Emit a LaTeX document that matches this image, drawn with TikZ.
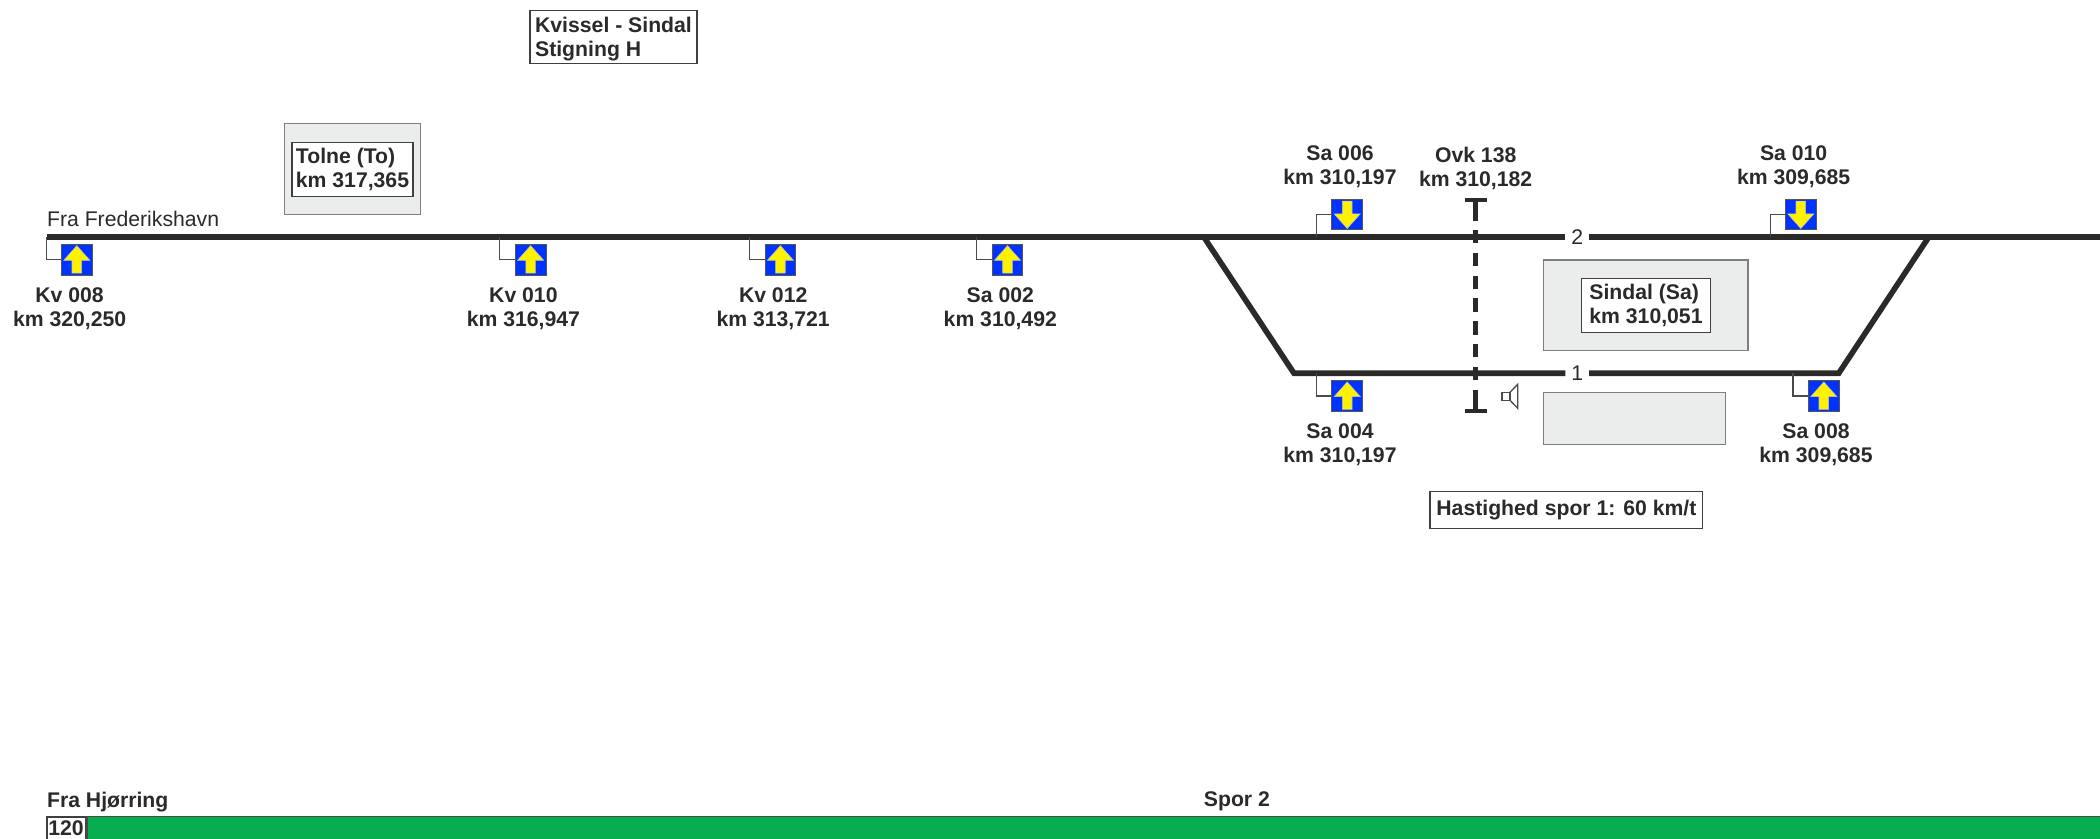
\documentclass[tikz,border=0pt]{standalone}
\usepackage{fontspec}
\setmainfont{Liberation Sans}
\usepackage{xcolor}
\usepackage{tikz}
\usetikzlibrary{positioning}
\definecolor{ink}{HTML}{2B2A29}
\definecolor{signalblue}{HTML}{0033FF}
\definecolor{buildinggray}{HTML}{EBECEC}
\definecolor{speedgreen}{HTML}{06AE4F}
\newcommand\ppbb{path picture bounding box}
\newcommand\txtsize{\fontsize{10.6}{12}\selectfont}
\tikzstyle{track} = [line width=2.8pt, draw=ink]
\tikzstyle{bracket} = [line width=.65pt, draw=ink!85]
\tikzstyle{tracknum} = [minimum width=11.5pt, inner sep=0pt, text=ink, font=\txtsize]
\tikzstyle{signame} = [align=center, inner sep=0pt, text=ink, font=\txtsize\bfseries]
\tikzstyle{plainname} = [anchor=west, inner sep=0pt, text=ink, font=\txtsize]
\tikzstyle{boldname} = [anchor=west, inner sep=0pt, text=ink, font=\txtsize\bfseries]
\tikzstyle{building} = [rectangle, draw=ink!60, fill=buildinggray, line width=.6pt]
\tikzstyle{infobox} = [rectangle, draw=ink!90, fill=white, line width=.55pt, inner sep=0pt, align=left, text=ink, font=\txtsize\bfseries]
\tikzset{
	signalup/.style = {rectangle, draw=ink!80, fill=signalblue, line width=.5pt, minimum size=15.4pt, inner sep=0pt,
		path picture={\draw [fill=yellow, draw=white!75!black, line width=.3pt, shift={(\ppbb.center)}]
			(0pt,7pt) -- (6.5pt,-.3pt) -- (2.4pt,-.3pt) -- (2.4pt,-6.7pt) -- (-2.4pt,-6.7pt) -- (-2.4pt,-.3pt) -- (-6.5pt,-.3pt) -- cycle;
		},% end of path picture
	},
	signaldown/.style = {rectangle, draw=ink!80, fill=signalblue, line width=.5pt, minimum size=15.4pt, inner sep=0pt,
		path picture={\draw [fill=yellow, draw=white!75!black, line width=.3pt, shift={(\ppbb.center)}]
			(0pt,-7pt) -- (6.5pt,.3pt) -- (2.4pt,.3pt) -- (2.4pt,6.7pt) -- (-2.4pt,6.7pt) -- (-2.4pt,.3pt) -- (-6.5pt,.3pt) -- cycle;
		},% end of path picture
	}
}

\begin{document}
\begin{tikzpicture}[x=.5pt, y=-.5pt, node distance=24.3pt]
\useasboundingbox (0,0) rectangle (2100,839);
%----------------------------------------------------------------------------
% Buildings
\node (tolneHouse) [building, minimum width=68.2pt, minimum height=45.3pt] at (352.5,169) {};
\node (sindalHouse) [building, minimum width=102.4pt, minimum height=45.3pt] at (1645.6,305.3) {};
\node (sideHouse) [building, minimum width=91.3pt, minimum height=25.8pt] at (1634.5,418.5) {};

%----------------------------------------------------------------------------
% Track points and track numbers
\coordinate (lineStart) at (46.7,237.3);
\coordinate (lineEnd) at (2100,237.3);
\coordinate (switchW) at (1204,237.3);
\coordinate (switchE) at (1928.6,237.3);
\coordinate (oneW) at (1294,373.3);
\coordinate (oneE) at (1838.7,373.3);
\node (num2) [tracknum] at (1577.3,237.3) {2};
\node (num1) [tracknum] at (1577.3,373.3) {1};

%----------------------------------------------------------------------------
% Draw tracks
\draw [track] (lineStart) -- (num2);
\draw [track] (num2) -- (lineEnd);
\draw [track] (switchW) -- (oneW) -- (num1);
\draw [track] (switchE) -- (oneE) -- (num1);

%----------------------------------------------------------------------------
% Signals
\node (kv008) [signalup] at (76.8,259.7) {};
\node (kv010) [signalup] at (530.6,259.7) {};
\node (kv012) [signalup] at (780.4,259.7) {};
\node (sa002) [signalup] at (1007.5,259.7) {};
\node (sa004) [signalup] at (1347.2,396) {};
\node (sa008) [signalup] at (1823.8,396) {};
\node (sa006) [signaldown] at (1347.2,214.5) {};
\node (sa010) [signaldown] at (1800.8,214.5) {};

% Signal names
\node (kv008name) [signame, below of=kv008, xshift=-3.6pt] {Kv 008\\km 320,250};
\node (kv010name) [signame, below of=kv010, xshift=-3.6pt] {Kv 010\\km 316,947};
\node (kv012name) [signame, below of=kv012, xshift=-3.6pt] {Kv 012\\km 313,721};
\node (sa002name) [signame, below of=sa002, xshift=-3.6pt] {Sa 002\\km 310,492};
\node (sa004name) [signame, below of=sa004, xshift=-3.6pt] {Sa 004\\km 310,197};
\node (sa008name) [signame, below of=sa008, xshift=-3.9pt] {Sa 008\\km 309,685};
\node (sa006name) [signame, above of=sa006, xshift=-3.6pt, yshift=-.6pt] {Sa 006\\km 310,197};
\node (sa010name) [signame, above of=sa010, xshift=-3.6pt, yshift=-.6pt] {Sa 010\\km 309,685};

%----------------------------------------------------------------------------
% Draw signal brackets
\coordinate (kv008foot) at (46.7,237.3);
\coordinate (kv010foot) at (499.4,237.3);
\coordinate (kv012foot) at (749.4,237.3);
\coordinate (sa002foot) at (976.5,237.3);
\coordinate (sa004foot) at (1316.7,373.3);
\coordinate (sa008foot) at (1793,373.3);
\coordinate (sa006foot) at (1316.7,237.3);
\coordinate (sa010foot) at (1770.6,237.3);
\foreach \sig in {kv008,kv010,kv012,sa002,sa004,sa008,sa006,sa010}
	\draw [bracket] (\sig foot) |- (\sig.west);

%----------------------------------------------------------------------------
% Level crossing and speaker
\coordinate (crossTop) at (1475.7,199.7);
\coordinate (crossBot) at (1475.7,411.3);
\node (ovkName) [signame] at (1475.7,168) {Ovk 138\\km 310,182};
\draw [line width=2.3pt, draw=ink, dash pattern=on 10.5pt off 4.7pt on 6.7pt off 4.7pt on 6.7pt off 4.7pt on 6.7pt off 4.7pt on 6.7pt off 4.7pt on 6.7pt off 4.7pt on 6.7pt off 4.7pt on 6.7pt off 4.7pt on 12pt off 20pt] (crossTop) -- (crossBot);
\draw [line width=2pt, draw=ink] ([xshift=-5.6pt]crossTop) -- ([xshift=5.6pt]crossTop);
\draw [line width=2pt, draw=ink] ([xshift=-5.6pt]crossBot) -- ([xshift=5.6pt]crossBot);
\draw [bracket] (1502,392.3) rectangle (1510,400.3);
\draw [bracket] (1510,392.3) -- (1517.7,384.3) -- (1517.7,408.3) -- (1510,400.3);

%----------------------------------------------------------------------------
% Text boxes
\node (routeBox) [infobox, minimum width=83.5pt, minimum height=26.4pt] at (613.5,36.8) {Kvissel - Sindal\\\smash{Stigning H}};
\node (tolneBox) [infobox, minimum width=60.5pt, minimum height=26.7pt] at (tolneHouse.center |- 0,169.5) {Tolne (To)\\km 317,365};
\node (sindalBox) [infobox, minimum width=64.5pt, minimum height=26.8pt] at (1646,305.5) {Sindal (Sa)\\km 310,051};
\node (speedNote) [infobox, minimum width=136.4pt, minimum height=18.4pt] at (1566.4,510) {Hastighed spor 1: 60 km/t};

\node (fromFred) [plainname] at (46.7,219) {Fra Frederikshavn};
\node (fromHjo) [boldname] at (46.7,802) {Fra Hjørring};
\node (spor2) [boldname] at (1203.5,801) {Spor 2};

%----------------------------------------------------------------------------
% Speed bar
\node (speed120) [infobox, anchor=north west, line width=.8pt, minimum width=19.3pt, minimum height=11.4pt, align=center] at (46,816) {120};
\node (speedBar) [rectangle, anchor=north west, draw=ink!85, fill=speedgreen, line width=.65pt, minimum width=1007.8pt, minimum height=11.4pt, inner sep=0pt] at (speed120.north east) {};

\end{tikzpicture}
\end{document}
